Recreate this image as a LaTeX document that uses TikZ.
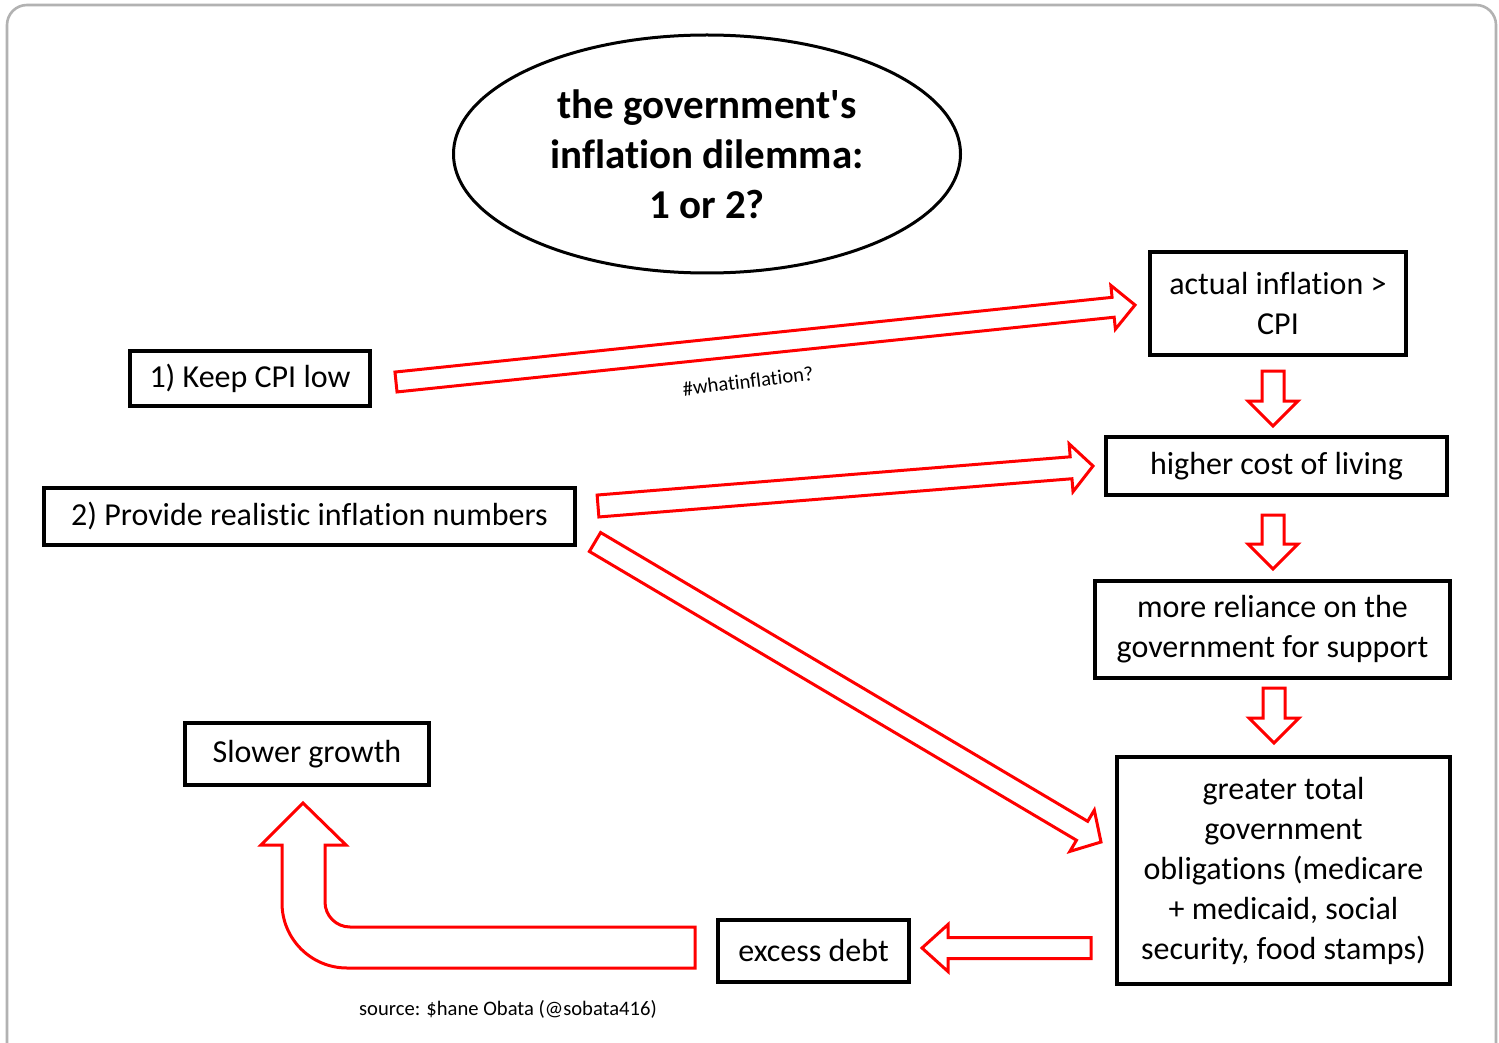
\documentclass[tikz,border=0pt]{standalone}
\usepackage{fontspec}
\setmainfont{Carlito}[Ligatures={TeX,NoCommon}]
\usetikzlibrary{shapes.geometric,calc}
\tikzset{
  box/.style={draw=black, line width=1.75pt, fill=white, align=center, inner sep=0pt,
    font=\fontsize{16}{20}\selectfont},
  barrowstyle/.style={draw=red, line width=1.5pt, fill=white, line join=miter},
  frame/.style={draw=black!30, line width=1.3pt, rounded corners=10pt},
  smalltext/.style={font=\fontsize{10.3}{12}\selectfont, inner sep=0pt},
}
\newcommand\blockarrow[5]{%
  \coordinate (#1#2h) at ($(#2)!#5!(#1)$);
  \draw[barrowstyle] ($(#1)!#3!90:(#2)$) -- ($(#1#2h)!#3!-90:(#1)$) -- ($(#1#2h)!#4!-90:(#1)$)
    -- (#2) -- ($(#1#2h)!#4!90:(#1)$) -- ($(#1#2h)!#3!90:(#1)$) -- ($(#1)!#3!-90:(#2)$) -- cycle;
}
\begin{document}
\begin{tikzpicture}[x=0.5pt,y=-0.5pt]
\useasboundingbox (0,0) rectangle (1499,1043);
\clip (0,0) rectangle (1499,1043);
\fill[white] (0,0) rectangle (1499,1043);
\draw[frame] (7,5) rectangle (1496,1080);

% title
\node[ellipse, draw=black, line width=1.5pt, minimum width=253.5pt, minimum height=119pt,
  inner sep=0pt, align=center, font=\bfseries\fontsize{20.5}{25}\selectfont]
  (title) at (707,154) {the government\textquotesingle s\\inflation dilemma:\\1 or 2?};

% boxes
\node[box, minimum width=120pt, minimum height=27.5pt] (k1) at (250,378.5) {1) Keep CPI low};
\node[box, minimum width=265.5pt, minimum height=28.5pt] (k2) at (309.5,516.5) {2) Provide realistic inflation numbers};
\node[box, minimum width=128pt, minimum height=51.5pt] (act) at (1278,303.5) {actual inflation >\\CPI};
\node[box, minimum width=170.5pt, minimum height=29pt] (cost) at (1276.5,466) {higher cost of living};
\node[box, minimum width=177.5pt, minimum height=48.5pt] (rel) at (1272.5,629.5) {more reliance on the\\government for support};
\node[box, minimum width=166.5pt, minimum height=113.5pt] (obl) at (1283.5,870.5)
  {greater total\\government\\obligations (medicare\\+ medicaid, social\\security, food stamps)};
\node[box, minimum width=95.5pt, minimum height=31pt] (debt) at (813.5,951) {excess debt};
\node[box, minimum width=122pt, minimum height=31pt] (slow) at (307,754) {Slower growth};

% connector end points
\coordinate (t1) at (396,382);  \coordinate (h1) at (1135,305);
\coordinate (t2) at (598,506);  \coordinate (h2) at (1093,466);
\coordinate (t3) at (595,542);  \coordinate (h3) at (1101,842);
\coordinate (t4) at (1273,371); \coordinate (h4) at (1273,426);
\coordinate (t5) at (1273,515); \coordinate (h5) at (1273,569);
\coordinate (t6) at (1274,688); \coordinate (h6) at (1274,743);
\coordinate (t7) at (1091,948); \coordinate (h7) at (922,948);

\blockarrow{t1}{h1}{5pt}{11pt}{11pt}
\blockarrow{t2}{h2}{5.5pt}{12pt}{11pt}
\blockarrow{t3}{h3}{5.5pt}{12pt}{11pt}
\blockarrow{t4}{h4}{5.5pt}{12.5pt}{12.5pt}
\blockarrow{t5}{h5}{5.5pt}{12.5pt}{12.5pt}
\blockarrow{t6}{h6}{5.5pt}{12.5pt}{12.5pt}
\blockarrow{t7}{h7}{5.25pt}{11.75pt}{13pt}

% bent arrow from excess debt to slower growth
\draw[barrowstyle] (695,927) -- (350,927) arc[start angle=90, end angle=180, radius=25]
  -- (325,845) -- (346,845) -- (303,803) -- (261,845) -- (282,845) -- (282,903)
  arc[start angle=180, end angle=90, radius=65] -- (695,968) -- cycle;

% labels
\node[smalltext, rotate=7] (lbl) at (748,381) {\#whatinflation?};
\node[smalltext] (src) at (508,1009) {source: \$hane Obata (@sobata416)};
\end{tikzpicture}
\end{document}
